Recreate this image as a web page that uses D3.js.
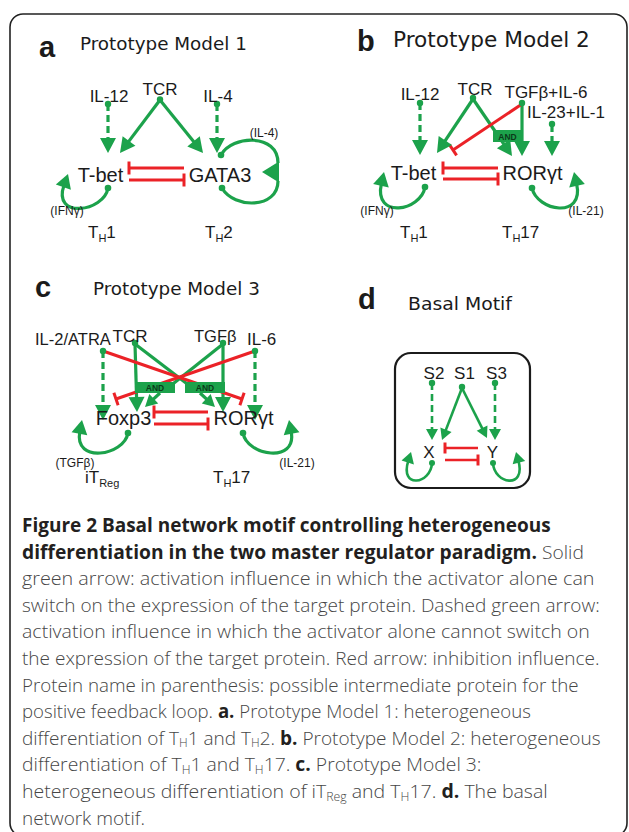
<!DOCTYPE html>
<html>
<head>
<meta charset="utf-8">
<script src="https://cdn.jsdelivr.net/npm/d3@7"></script>
<style>
  body { margin: 0; background: #fff; }
  svg { display: block; }
</style>
</head>
<body>
<script>
// ---------- data ----------
const letters = ["a", "b", "c", "d"];
const titles = ["Prototype Model 1", "Prototype Model 2", "Prototype Model 3", "Basal Motif"];
const signals = [
  ["IL-12", "TCR", "IL-4"],
  ["IL-12", "TCR", "TGFβ+IL-6", "IL-23+IL-1"],
  ["IL-2/ATRA", "TCR", "TGFβ", "IL-6"],
  ["S2", "S1", "S3"]
];
const regulators = [["T-bet", "GATA3"], ["T-bet", "RORγt"], ["Foxp3", "RORγt"], ["X", "Y"]];
const feedback = [["(IFNγ)", "(IL-4)"], ["(IFNγ)", "(IL-21)"], ["(TGFβ)", "(IL-21)"], []];
const fates = [
  [["T", "H", "1"], ["T", "H", "2"]],
  [["T", "H", "1"], ["T", "H", "17"]],
  [["iT", "Reg", ""], ["T", "H", "17"]],
  []
];
// edges: [panel, kind, from, to]
const edges = [
  [0, "dash", "IL-12", "T-bet"], [0, "act", "TCR", "T-bet"], [0, "act", "TCR", "GATA3"], [0, "dash", "IL-4", "GATA3"],
  [0, "inh", "GATA3", "T-bet"], [0, "inh", "T-bet", "GATA3"], [0, "loop", "T-bet", "T-bet"], [0, "merge", "GATA3", "GATA3"],
  [1, "dash", "IL-12", "T-bet"], [1, "act", "TCR", "T-bet"], [1, "act", "TCR", "RORγt"], [1, "act", "TGFβ+IL-6", "RORγt"],
  [1, "inh", "TGFβ+IL-6", "T-bet"], [1, "dash", "IL-23+IL-1", "RORγt"], [1, "inh", "RORγt", "T-bet"], [1, "inh", "T-bet", "RORγt"],
  [1, "loop", "T-bet", "T-bet"], [1, "loop", "RORγt", "RORγt"],
  [2, "dash", "IL-2/ATRA", "Foxp3"], [2, "dash", "IL-6", "RORγt"], [2, "line", "TCR", "AND2"], [2, "line", "TGFβ", "AND1"],
  [2, "act", "TCR", "Foxp3"], [2, "act", "TGFβ", "RORγt"], [2, "inh", "IL-2/ATRA", "RORγt"], [2, "inh", "IL-6", "Foxp3"],
  [2, "act", "AND1", "Foxp3"], [2, "act", "AND2", "RORγt"], [2, "inh", "RORγt", "Foxp3"], [2, "inh", "Foxp3", "RORγt"],
  [2, "loop", "Foxp3", "Foxp3"], [2, "loop", "RORγt", "RORγt"],
  [3, "dash", "S2", "X"], [3, "act", "S1", "X"], [3, "act", "S1", "Y"], [3, "dash", "S3", "Y"],
  [3, "inh", "Y", "X"], [3, "inh", "X", "Y"], [3, "loop", "X", "X"], [3, "loop", "Y", "Y"]
];
const andGates = [[1, "AND"], [2, "AND1"], [2, "AND2"]];

const captionLines = [
  [["Figure 2 Basal network motif controlling heterogeneous", "b"]],
  [["differentiation in the two master regulator paradigm.", "b"], [" Solid", "n"]],
  [["green arrow: activation influence in which the activator alone can", "n"]],
  [["switch on the expression of the target protein. Dashed green arrow:", "n"]],
  [["activation influence in which the activator alone cannot switch on", "n"]],
  [["the expression of the target protein. Red arrow: inhibition influence.", "n"]],
  [["Protein name in parenthesis: possible intermediate protein for the", "n"]],
  [["positive feedback loop. ", "n"], ["a.", "b"], [" Prototype Model 1: heterogeneous", "n"]],
  [["differentiation of T", "n"], ["H", "s"], ["1 and T", "n"], ["H", "s"], ["2. ", "n"], ["b.", "b"], [" Prototype Model 2: heterogeneous", "n"]],
  [["differentiation of T", "n"], ["H", "s"], ["1 and T", "n"], ["H", "s"], ["17. ", "n"], ["c.", "b"], [" Prototype Model 3:", "n"]],
  [["heterogeneous differentiation of iT", "n"], ["Reg", "s"], [" and T", "n"], ["H", "s"], ["17. ", "n"], ["d.", "b"], [" The basal", "n"]],
  [["network motif.", "n"]]
];

// ---------- layout (positions only) ----------
const headPos = [[39, 57, 80, 50, 167], [357, 51, 393, 47, 197], [35, 297, 93, 295, 167], [358, 309, 408, 310, 104]];
// label anchor: [x, baseline, size, anchor]
const signalPos = [
  [[109, 102, 17, "middle"], [160, 95, 17, "middle"], [218, 102, 17, "middle"]],
  [[420, 100, 17, "middle"], [475, 95, 17, "middle"], [546, 98, 17, "middle"], [566, 118, 17, "middle"]],
  [[35, 345, 16.5, "start"], [112.5, 342, 17, "start"], [194, 342, 16.5, "start"], [247, 345, 17, "start"]],
  [[434, 379, 17, "middle"], [464.5, 379, 17, "middle"], [496.5, 379, 17, "middle"]]
];
const signalDot = [
  [[108, 104], [160, 99.5], [217, 104]],
  [[420, 103], [473, 98], [522, 103], [552, 124]],
  [[103, 351], [135, 343], [223, 343], [255, 351]],
  [[432, 383], [462, 387], [495, 383]]
];
const regPos = [
  [[100.5, 182, 20], [220, 182, 20]],
  [[413.5, 180, 20], [532.5, 180, 20]],
  [[123.5, 425, 20], [243.5, 425, 20]],
  [[429, 458, 17], [492.5, 458, 17]]
];
const feedbackPos = [[[67, 215], [264, 137]], [[377, 215], [586, 215]], [[75, 467], [297, 467]], []];
const fatePos = [[[88, 238], [205, 238]], [[400, 238], [502, 238]], [[85, 483], [213, 483]], []];
const gatePos = { "1:AND": [493, 130, 29, 12], "2:AND1": [135, 382, 40, 11], "2:AND2": [185, 382, 40, 11] };
const motifBox = [395, 353, 135, 135];
// geometry of each edge, same order as edges
const edgeGeom = [
  [[108, 104], [108, 153]], [[160, 100], [120, 153]], [[160, 100], [203, 153]], [[217, 104], [217, 153]],
  [[184, 168], [129, 168]], [[129, 180], [184, 180]],
  [[108, 188], [104, 212], [56, 208], [68, 174]],
  [[222, 188], [234, 209], [278, 209], [278, 181], [221, 155], [232, 135], [278, 133], [278, 163], [262, 172]],
  [[420, 103], [420, 155]], [[473, 99], [437, 153]], [[473, 99], [512, 156]], [[522, 104], [522, 156]],
  [[522, 104], [453, 150]], [[552, 125], [552, 156]], [[498, 168], [443, 168]], [[443, 179], [498, 179]],
  [[425, 187], [421, 211], [376, 208], [384, 172]], [[532, 188], [537, 211], [582, 208], [574, 172]],
  [[103, 351], [103, 420]], [[255, 351], [255, 420]], [[135, 344], [186, 383]], [[223, 344], [174, 383]],
  [[135, 344], [137, 412]], [[223, 344], [223, 412]], [[103, 351], [242, 399]], [[255, 351], [116, 399]],
  [[160, 393], [145, 407]], [[200, 393], [215, 407]], [[208, 412], [154, 412]], [[154, 424], [208, 424]],
  [[128, 433], [124, 456], [76, 452], [82, 420]], [[243, 433], [247, 456], [295, 452], [289, 420]],
  [[432, 383], [432, 440]], [[462, 388], [442, 440]], [[462, 388], [487, 438]], [[495, 383], [495, 440]],
  [[478, 448], [445, 448]], [[445, 460], [478, 460]],
  [[432, 463], [431, 484], [402, 481], [411, 452]], [[493, 463], [494, 484], [524, 481], [516, 452]]
];
const captionX = 22, captionY0 = 532, captionStep = 26.6;
const captionEnds = [551, 584, 595, 600, 590, 600, 579, 531, 601, 482, 548, 145];

// ---------- drawing ----------
const GREEN = "#1ca24b", RED = "#eb2227", INK = "#1b1b1b";
const kindColor = d3.scaleOrdinal().domain(["act", "dash", "line", "loop", "merge", "inh"])
  .range([GREEN, GREEN, GREEN, GREEN, GREEN, RED]);
const LABEL_FONT = "'Liberation Sans', Arial, sans-serif";

const svg = d3.select("body").append("svg").attr("width", 629).attr("height", 832);

svg.append("rect")
  .attr("x", 10).attr("y", 14).attr("width", 617).attr("height", 822).attr("rx", 13)
  .attr("fill", "none").attr("stroke", "#222").attr("stroke-width", 1.6);

const line = d3.line();

function head(g, tip, from, len, wid, color) {
  const dx = tip[0] - from[0], dy = tip[1] - from[1], L = Math.hypot(dx, dy);
  const ux = dx / L, uy = dy / L;
  const bx = tip[0] - ux * len, by = tip[1] - uy * len;
  g.append("path")
    .attr("d", line([tip, [bx - uy * wid / 2, by + ux * wid / 2], [bx + uy * wid / 2, by - ux * wid / 2]]) + "Z")
    .attr("fill", color);
  return [bx + ux * 2, by + uy * 2];
}

// squeeze a text element horizontally so it spans the wanted width
function fitWidth(t, x, y, width) {
  t.attr("x", 0).attr("y", 0);
  const w = t.node().getComputedTextLength();
  const sx = w > 0 ? width / w : 1;
  t.attr("transform", `translate(${x},${y}) scale(${sx},1)`);
}

const layerLines = svg.append("g");
const layerRed = svg.append("g");
const layerGates = svg.append("g");
const layerHeads = svg.append("g");
const layerText = svg.append("g");

edges.forEach((e, i) => {
  const [p, kind] = e;
  const geo = edgeGeom[i];
  const color = kindColor(kind);
  const small = p === 3;
  const hl = small ? 11 : 15, hw = small ? 12 : 16;
  const sw = small ? 2.6 : 3.2;

  if (kind === "act" || kind === "dash") {
    const shortLen = Math.hypot(geo[1][0] - geo[0][0], geo[1][1] - geo[0][1]) < 30;
    const end = head(layerHeads, geo[1], geo[0], shortLen ? 12 : hl, shortLen ? 13 : hw, color);
    layerLines.append("path").attr("d", line([geo[0], end]))
      .attr("stroke", color).attr("stroke-width", sw).attr("fill", "none")
      .attr("stroke-dasharray", kind === "dash" ? "7,4" : null);
  } else if (kind === "line") {
    layerLines.append("path").attr("d", line(geo))
      .attr("stroke", color).attr("stroke-width", sw).attr("fill", "none");
  } else if (kind === "inh") {
    const [a, b] = geo;
    const dx = b[0] - a[0], dy = b[1] - a[1], L = Math.hypot(dx, dy);
    const ux = dx / L, uy = dy / L, hb = small ? 5.5 : 6.5;
    layerRed.append("path").attr("d", line([a, b]))
      .attr("stroke", color).attr("stroke-width", small ? 2.6 : 3).attr("fill", "none");
    layerRed.append("path").attr("d", line([[b[0] - uy * hb, b[1] + ux * hb], [b[0] + uy * hb, b[1] - ux * hb]]))
      .attr("stroke", color).attr("stroke-width", 3).attr("fill", "none");
  } else if (kind === "loop") {
    const [s, c1, c2, tip] = geo;
    const end = head(layerHeads, tip, c2, small ? 11 : 14, small ? 13 : 16, color);
    const sh = [end[0] - tip[0], end[1] - tip[1]];
    const path = d3.path();
    path.moveTo(s[0], s[1]);
    path.bezierCurveTo(c1[0], c1[1], c2[0] + sh[0], c2[1] + sh[1], end[0], end[1]);
    layerLines.append("path").attr("d", path.toString())
      .attr("stroke", color).attr("stroke-width", sw).attr("fill", "none");
    layerHeads.append("circle").attr("cx", s[0]).attr("cy", s[1]).attr("r", small ? 3 : 3.3).attr("fill", color);
  } else if (kind === "merge") {
    for (const k of [0, 4]) {
      const path = d3.path();
      path.moveTo(geo[k][0], geo[k][1]);
      path.bezierCurveTo(geo[k + 1][0], geo[k + 1][1], geo[k + 2][0], geo[k + 2][1], geo[k + 3][0], geo[k + 3][1]);
      layerLines.append("path").attr("d", path.toString())
        .attr("stroke", color).attr("stroke-width", sw).attr("fill", "none");
      layerHeads.append("circle").attr("cx", geo[k][0]).attr("cy", geo[k][1]).attr("r", 3.3).attr("fill", color);
    }
    const tip = geo[8];
    head(layerHeads, tip, [tip[0] + 10, tip[1]], 17, 21, color);
  }
});

// signal dots
signalDot.forEach(ds => ds.forEach(d => {
  layerHeads.append("circle").attr("cx", d[0]).attr("cy", d[1]).attr("r", 3.2).attr("fill", GREEN);
}));

// AND gates
andGates.forEach(([p, id]) => {
  const [x, y, w, h] = gatePos[p + ":" + id];
  layerGates.append("rect").attr("x", x).attr("y", y).attr("width", w).attr("height", h).attr("fill", GREEN);
  layerGates.append("text").attr("x", x + w / 2).attr("y", y + h - 2.5)
    .attr("text-anchor", "middle").attr("font-family", LABEL_FONT).attr("font-weight", 700)
    .attr("font-size", 8.5).attr("fill", "#0b3a1a").text("AND");
});

// motif box
layerGates.append("rect")
  .attr("x", motifBox[0]).attr("y", motifBox[1]).attr("width", motifBox[2]).attr("height", motifBox[3])
  .attr("rx", 16).attr("fill", "none").attr("stroke", INK).attr("stroke-width", 2.2);

// panel headings
letters.forEach((l, i) => {
  const [lx, ly, tx, ty, tw] = headPos[i];
  layerText.append("text").attr("x", lx).attr("y", ly)
    .attr("font-family", LABEL_FONT).attr("font-weight", 700).attr("font-size", 29).attr("fill", INK).text(l);
  const t = layerText.append("text")
    .attr("font-family", "'DejaVu Sans', sans-serif").attr("font-size", i === 1 ? 21 : 18.5).attr("fill", INK)
    .text(titles[i]);
  fitWidth(t, tx, ty, tw);
});

function label(txt, pos, size, anchor) {
  layerText.append("text").attr("x", pos[0]).attr("y", pos[1])
    .attr("text-anchor", anchor || "middle").attr("font-family", LABEL_FONT)
    .attr("font-size", size).attr("fill", INK).text(txt);
}

signals.forEach((arr, p) => arr.forEach((s, k) => {
  const [x, y, size, anchor] = signalPos[p][k];
  label(s, [x, y], size, anchor);
}));
regulators.forEach((arr, p) => arr.forEach((r, k) => {
  const [x, y, size] = regPos[p][k];
  label(r, [x, y], size, "middle");
}));
feedback.forEach((arr, p) => arr.forEach((f, k) => label(f, feedbackPos[p][k], 12, "middle")));
fates.forEach((arr, p) => arr.forEach((f, k) => {
  const [x, y] = fatePos[p][k];
  const t = layerText.append("text").attr("x", x).attr("y", y)
    .attr("font-family", LABEL_FONT).attr("font-size", 17).attr("fill", INK);
  t.append("tspan").text(f[0]);
  t.append("tspan").attr("font-size", 11).attr("dy", 4).text(f[1]);
  t.append("tspan").attr("dy", -4).text(f[2]);
}));

// caption
captionLines.forEach((segs, i) => {
  const t = svg.append("text")
    .attr("font-family", "'Open Sans', sans-serif").attr("font-size", 19);
  let prevSub = false;
  segs.forEach(([str, st]) => {
    const ts = t.append("tspan").text(str);
    if (st === "b") ts.attr("font-weight", 700).attr("fill", "#231f20");
    else ts.attr("font-weight", 300).attr("fill", "#464646");
    if (st === "s") ts.attr("font-size", 12).attr("dy", 2.5);
    else if (prevSub) ts.attr("dy", -2.5);
    prevSub = st === "s";
  });
  fitWidth(t, captionX, captionY0 + i * captionStep, captionEnds[i] - captionX);
});
</script>
</body>
</html>
